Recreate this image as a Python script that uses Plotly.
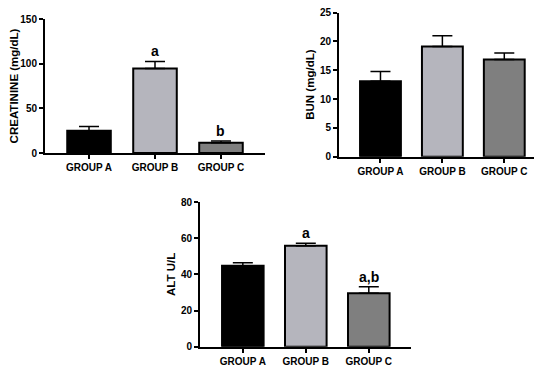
import plotly.graph_objects as go

groups = ["GROUP A", "GROUP B", "GROUP C"]
colors = ["#000000", "#b5b5bd", "#7f7f7f"]

creat_vals = [24.8, 94.5, 11.5]
creat_err = [5.0, 8.0, 2.0]
creat_labels = ["", "a", "b"]
creat_ticks = [0, 50, 100, 150]

bun_vals = [13.1, 19.1, 16.85]
bun_err = [1.7, 1.9, 1.15]
bun_labels = ["", "", ""]
bun_ticks = [0, 5, 10, 15, 20, 25]

alt_vals = [44.8, 55.8, 29.5]
alt_err = [1.6, 1.4, 3.7]
alt_labels = ["", "a", "a,b"]
alt_ticks = [0, 20, 40, 60, 80]

FONT = "Liberation Sans"

# page body has an 8px margin; figure is sized to fit the remaining window
OFF = 8
W, H = 542 - OFF, 366 - OFF


def xd(a, b):
    return [(a - OFF) / W, (b - OFF) / W]


def yd(bottom, top):
    return [1 - (bottom - OFF) / H, 1 - (top - OFF) / H]


panels = [
    dict(vals=creat_vals, err=creat_err, labels=creat_labels, title="<b>CREATININE (mg/dL)</b>",
         xdom=xd(45, 265), ydom=yd(153, 19), xr=[-0.667, 2.667],
         yr=[0, 150], ticks=creat_ticks, sfx=""),
    dict(vals=bun_vals, err=bun_err, labels=bun_labels, title="<b>BUN (mg/dL)</b>",
         xdom=xd(339, 534), ydom=yd(156.7, 12.5), xr=[-0.67, 2.48],
         yr=[0, 25], ticks=bun_ticks, sfx="2"),
    dict(vals=alt_vals, err=alt_err, labels=alt_labels, title="<b>ALT U/L</b>",
         xdom=xd(200, 411), ydom=yd(346.7, 202), xr=[-0.68, 2.67],
         yr=[0, 80], ticks=alt_ticks, sfx="3"),
]

fig = go.Figure()
layout = dict(width=W, height=H, margin=dict(l=0, r=0, t=0, b=0, autoexpand=False),
              paper_bgcolor="white", plot_bgcolor="white", showlegend=False,
              font=dict(family=FONT, color="black"))
annotations = []
for p in panels:
    s = p["sfx"]
    fig.add_trace(go.Bar(
        x=groups, y=p["vals"], width=0.66,
        marker=dict(color=colors, line=dict(color="black", width=2)),
        error_y=dict(type="data", array=p["err"], arrayminus=[0]*3, symmetric=False,
                     color="black", thickness=1.5, width=10),
        xaxis="x" + s, yaxis="y" + s,
    ))
    layout["xaxis" + s] = dict(domain=p["xdom"], anchor="y" + s, range=p["xr"], automargin=False,
                               showline=True, linecolor="black", linewidth=2,
                               ticks="outside", ticklen=4, tickwidth=1.5, tickcolor="black",
                               tickvals=groups, ticktext=["<b>%s</b>" % g for g in groups],
                               tickfont=dict(size=10, family=FONT), showgrid=False,
                               zeroline=False, fixedrange=True)
    yr = [p["yr"][0], p["yr"][1] * 1.0005]
    layout["yaxis" + s] = dict(domain=p["ydom"], anchor="x" + s, range=yr,
                               tickvals=p["ticks"], ticktext=["<b>%d</b>" % t for t in p["ticks"]],
                               automargin=False, ticklabeloverflow="allow",
                               showline=True, linecolor="black", linewidth=2,
                               ticks="outside", ticklen=4, tickwidth=1.5, tickcolor="black",
                               tickfont=dict(size=10, family=FONT), showgrid=False,
                               zeroline=False,
                               title=dict(text=p["title"], font=dict(size=11.5, family=FONT), standoff=3))
    for g, v, e, lab in zip(groups, p["vals"], p["err"], p["labels"]):
        if lab:
            annotations.append(dict(x=g, y=v + e, xref="x" + s, yref="y" + s, text="<b>%s</b>" % lab,
                                    showarrow=False, yanchor="bottom", yshift=0,
                                    font=dict(size=14, family=FONT, color="black")))
layout["annotations"] = annotations
fig.update_layout(**layout)
fig.write_html("out.html")
